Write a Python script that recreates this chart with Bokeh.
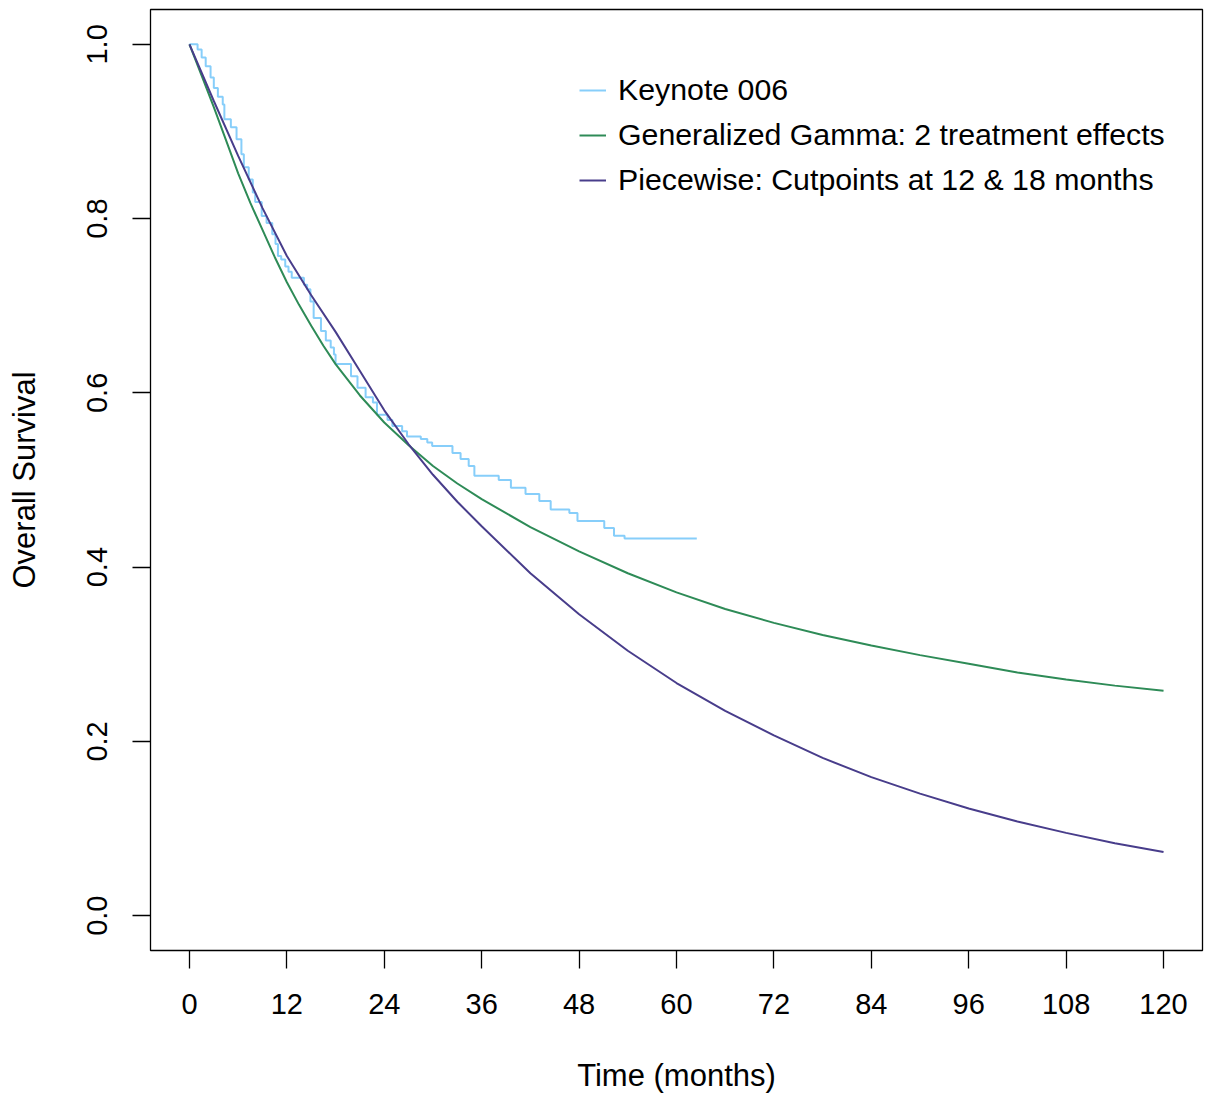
from bokeh.plotting import figure
from bokeh.models import FixedTicker, Legend, LegendItem, Range1d
from bokeh.embed import file_html
from bokeh.resources import INLINE

# Kaplan-Meier (Keynote 006) step data: time (months) and survival after each step
km_time = [0, 1.0, 1.5, 2.0, 2.6, 3.0, 3.5, 4.1, 4.3, 5.1, 5.8, 6.4, 6.7, 7.3, 7.8,
           8.1, 8.9, 9.5, 10.2, 10.6, 10.9, 11.3, 11.8, 12.2, 12.6, 14.1, 14.5, 14.9,
           15.3, 16.2, 16.8, 17.4, 17.8, 18.0, 19.9, 20.7, 21.7, 22.6, 23.1, 24.4,
           25.0, 26.2, 26.8, 28.5, 29.3, 29.9, 32.4, 33.4, 34.4, 35.1, 38.1, 39.6,
           41.4, 43.1, 44.5, 46.8, 47.8, 51.1, 52.3, 53.6, 62.5]
km_surv = [1.0, 0.994, 0.985, 0.975, 0.962, 0.950, 0.940, 0.931, 0.914, 0.905, 0.891,
           0.874, 0.859, 0.845, 0.830, 0.819, 0.803, 0.795, 0.782, 0.771, 0.757, 0.753,
           0.745, 0.739, 0.732, 0.724, 0.719, 0.705, 0.686, 0.671, 0.660, 0.652, 0.644,
           0.633, 0.619, 0.606, 0.595, 0.589, 0.575, 0.569, 0.562, 0.556, 0.550, 0.547,
           0.543, 0.539, 0.531, 0.524, 0.516, 0.505, 0.500, 0.491, 0.484, 0.476, 0.466,
           0.462, 0.453, 0.445, 0.436, 0.433, 0.433]

# Generalized Gamma model curve
gg_time = [0, 1.5, 3, 4.5, 6, 7.5, 9, 10.5, 12, 13.5, 15, 16.5, 18, 21, 24, 27, 30, 33,
           36, 42, 48, 54, 60, 66, 72, 78, 84, 90, 96, 102, 108, 114, 120]
gengamma_surv = [1.0, 0.964, 0.928, 0.890, 0.852, 0.818, 0.787, 0.756, 0.727, 0.701,
                 0.677, 0.654, 0.633, 0.597, 0.566, 0.540, 0.516, 0.496, 0.478, 0.446,
                 0.418, 0.393, 0.371, 0.352, 0.336, 0.322, 0.310, 0.299, 0.289, 0.279,
                 0.271, 0.264, 0.258]

# Piecewise exponential model curve
pw_time = [0, 3, 6, 9, 12, 15, 18, 21, 24, 27, 30, 33, 36, 42, 48, 54, 60, 66, 72, 78,
           84, 90, 96, 102, 108, 114, 120]
piecewise_surv = [1.0, 0.935, 0.872, 0.812, 0.757, 0.712, 0.670, 0.625, 0.580, 0.541,
                  0.506, 0.475, 0.447, 0.393, 0.346, 0.304, 0.267, 0.235, 0.207, 0.181,
                  0.159, 0.140, 0.123, 0.108, 0.095, 0.083, 0.073]

x_ticks = [0, 12, 24, 36, 48, 60, 72, 84, 96, 108, 120]
y_ticks = [0.0, 0.2, 0.4, 0.6, 0.8, 1.0]
y_tick_labels = {0.0: "0.0", 0.2: "0.2", 0.4: "0.4", 0.6: "0.6", 0.8: "0.8", 1.0: "1.0"}

labels = ["Keynote 006", "Generalized Gamma: 2 treatment effects",
          "Piecewise: Cutpoints at 12 & 18 months"]
colors = ["#87CEFA", "#2E8B57", "#483D8B"]

FONT = "Liberation Sans"
FS = "29px"

p = figure(width=1204, height=1095, output_backend="svg", toolbar_location=None,
           x_range=Range1d(-4.8, 124.8), y_range=Range1d(-0.04, 1.04),
           min_border_left=150, min_border_right=2, min_border_top=9,
           min_border_bottom=145)
p.xgrid.visible = False
p.ygrid.visible = False
p.outline_line_color = "black"
p.outline_line_width = 1.3
p.background_fill_color = "white"
p.border_fill_color = "white"

r_km = p.step(km_time, km_surv, mode="after", line_color=colors[0], line_width=2)
r_gg = p.line(gg_time, gengamma_surv, line_color=colors[1], line_width=2)
r_pw = p.line(pw_time, piecewise_surv, line_color=colors[2], line_width=2)

for ax in (p.xaxis[0], p.yaxis[0]):
    ax.axis_line_color = None
    ax.major_tick_in = 0
    ax.major_tick_out = 18
    ax.major_tick_line_width = 1.3
    ax.minor_tick_line_color = None
    ax.major_label_text_font = FONT
    ax.major_label_text_font_size = FS
    ax.major_label_text_color = "black"
    ax.axis_label_text_font = FONT
    ax.axis_label_text_font_size = "31px"
    ax.axis_label_text_font_style = "normal"
    ax.axis_label_text_color = "black"

p.xaxis.ticker = FixedTicker(ticks=x_ticks)
p.yaxis.ticker = FixedTicker(ticks=y_ticks)
p.yaxis.major_label_overrides = y_tick_labels
p.yaxis.major_label_orientation = "vertical"
p.xaxis.axis_label = "Time (months)"
p.yaxis.axis_label = "Overall Survival"
p.xaxis.major_label_standoff = 25
p.xaxis.axis_label_standoff = 41
p.yaxis.major_label_standoff = 25
p.yaxis.axis_label_standoff = 43

legend = Legend(items=[LegendItem(label=labels[0], renderers=[r_km]),
                       LegendItem(label=labels[1], renderers=[r_gg]),
                       LegendItem(label=labels[2], renderers=[r_pw])],
                location=(429, 753), border_line_color=None,
                background_fill_alpha=0, padding=0, margin=0,
                glyph_width=27, glyph_height=30, label_height=30, spacing=11,
                label_standoff=12, label_text_font=FONT, label_text_font_size="30.3px",
                label_text_color="black")
p.add_layout(legend)

open("out.html", "w").write(file_html(p, INLINE))
